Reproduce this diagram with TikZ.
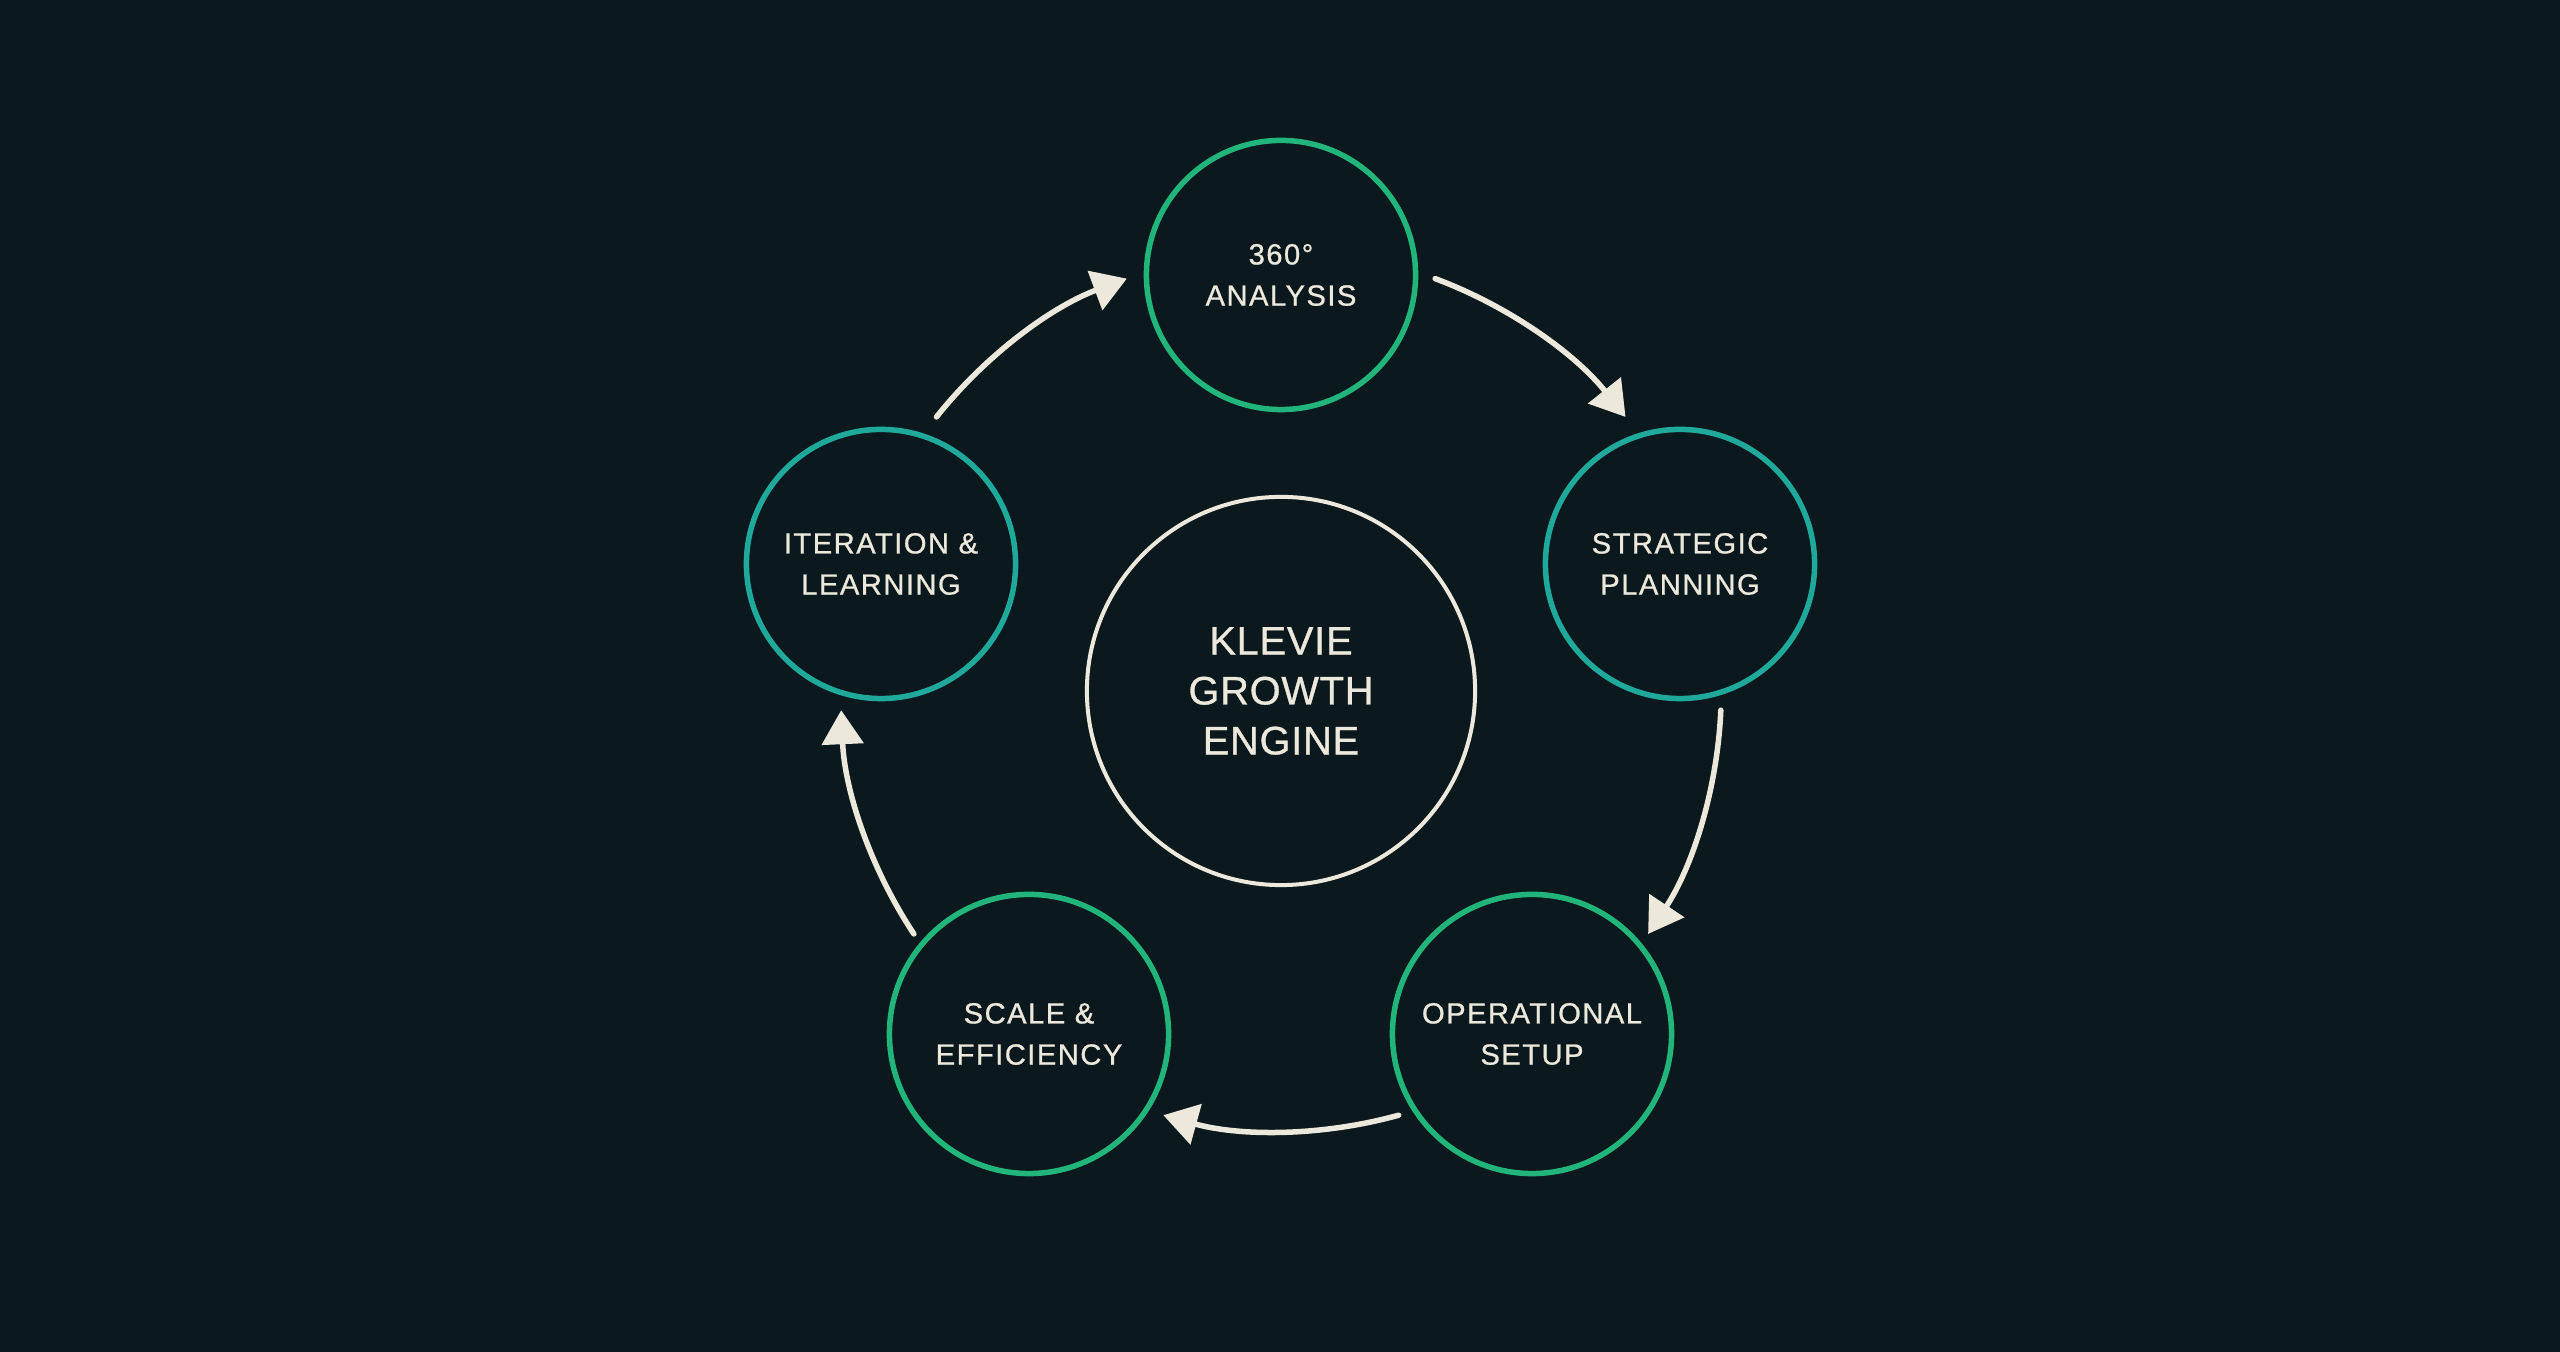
\documentclass[tikz,border=0pt]{standalone}
\usepackage{fontspec}
\setmainfont{Liberation Sans}
\newfontfamily\stagefont[LetterSpace=5,FakeBold=0.8]{Liberation Sans}
\newfontfamily\corefont[LetterSpace=2,FakeBold=0.8]{Liberation Sans}
\usetikzlibrary{arrows.meta}
\definecolor{bgc}{HTML}{0B191E}
\definecolor{grnc}{HTML}{21B47B}
\definecolor{tealc}{HTML}{1FA99B}
\definecolor{creamc}{HTML}{ECE9DC}
\begin{document}
\begin{tikzpicture}[x=0.01cm,y=0.01cm,
  stage/.style={circle, draw, line width=0.055cm, minimum size=2.69cm, inner sep=0pt,
    text=creamc, align=center, font=\stagefont\fontsize{8.3}{11.7}\selectfont},
  core/.style={circle, draw=creamc, line width=0.04cm, minimum size=3.88cm, inner sep=0pt,
    text=creamc, align=center, font=\corefont\fontsize{11.3}{14.2}\selectfont},
  flow/.style={draw=creamc, line width=0.055cm, line cap=round,
    -{Triangle[length=0.34cm,width=0.41cm]}}
]
\fill[bgc] (0,0) rectangle (2560,1352);
\useasboundingbox (0,0) rectangle (2560,1352);

\node[core] (C) at (1281,661) {KLEVIE\\GROWTH\\ENGINE};
\node[stage, draw=grnc] (T) at (1281,1077) {360°\\ANALYSIS};
\node[stage, draw=tealc] (S) at (1680,788) {STRATEGIC\\PLANNING};
\node[stage, draw=grnc, minimum size=2.79cm] (O) at (1532,318) {OPERATIONAL\\SETUP};
\node[stage, draw=grnc, minimum size=2.79cm] (E) at (1029,318) {SCALE \&\\EFFICIENCY};
\node[stage, draw=tealc] (I) at (881,788) {ITERATION \&\\LEARNING};

% connectors: arcs about the centre node, each between two neighbouring stages
\foreach \m in {54,-18,-90,-162,126}{
  \draw[flow] ([shift={(\m+15.5:4.4cm)}]C.center)
     arc[start angle=\m+15.5, end angle=\m-15.5, radius=4.4cm];
}
\end{tikzpicture}
\end{document}
